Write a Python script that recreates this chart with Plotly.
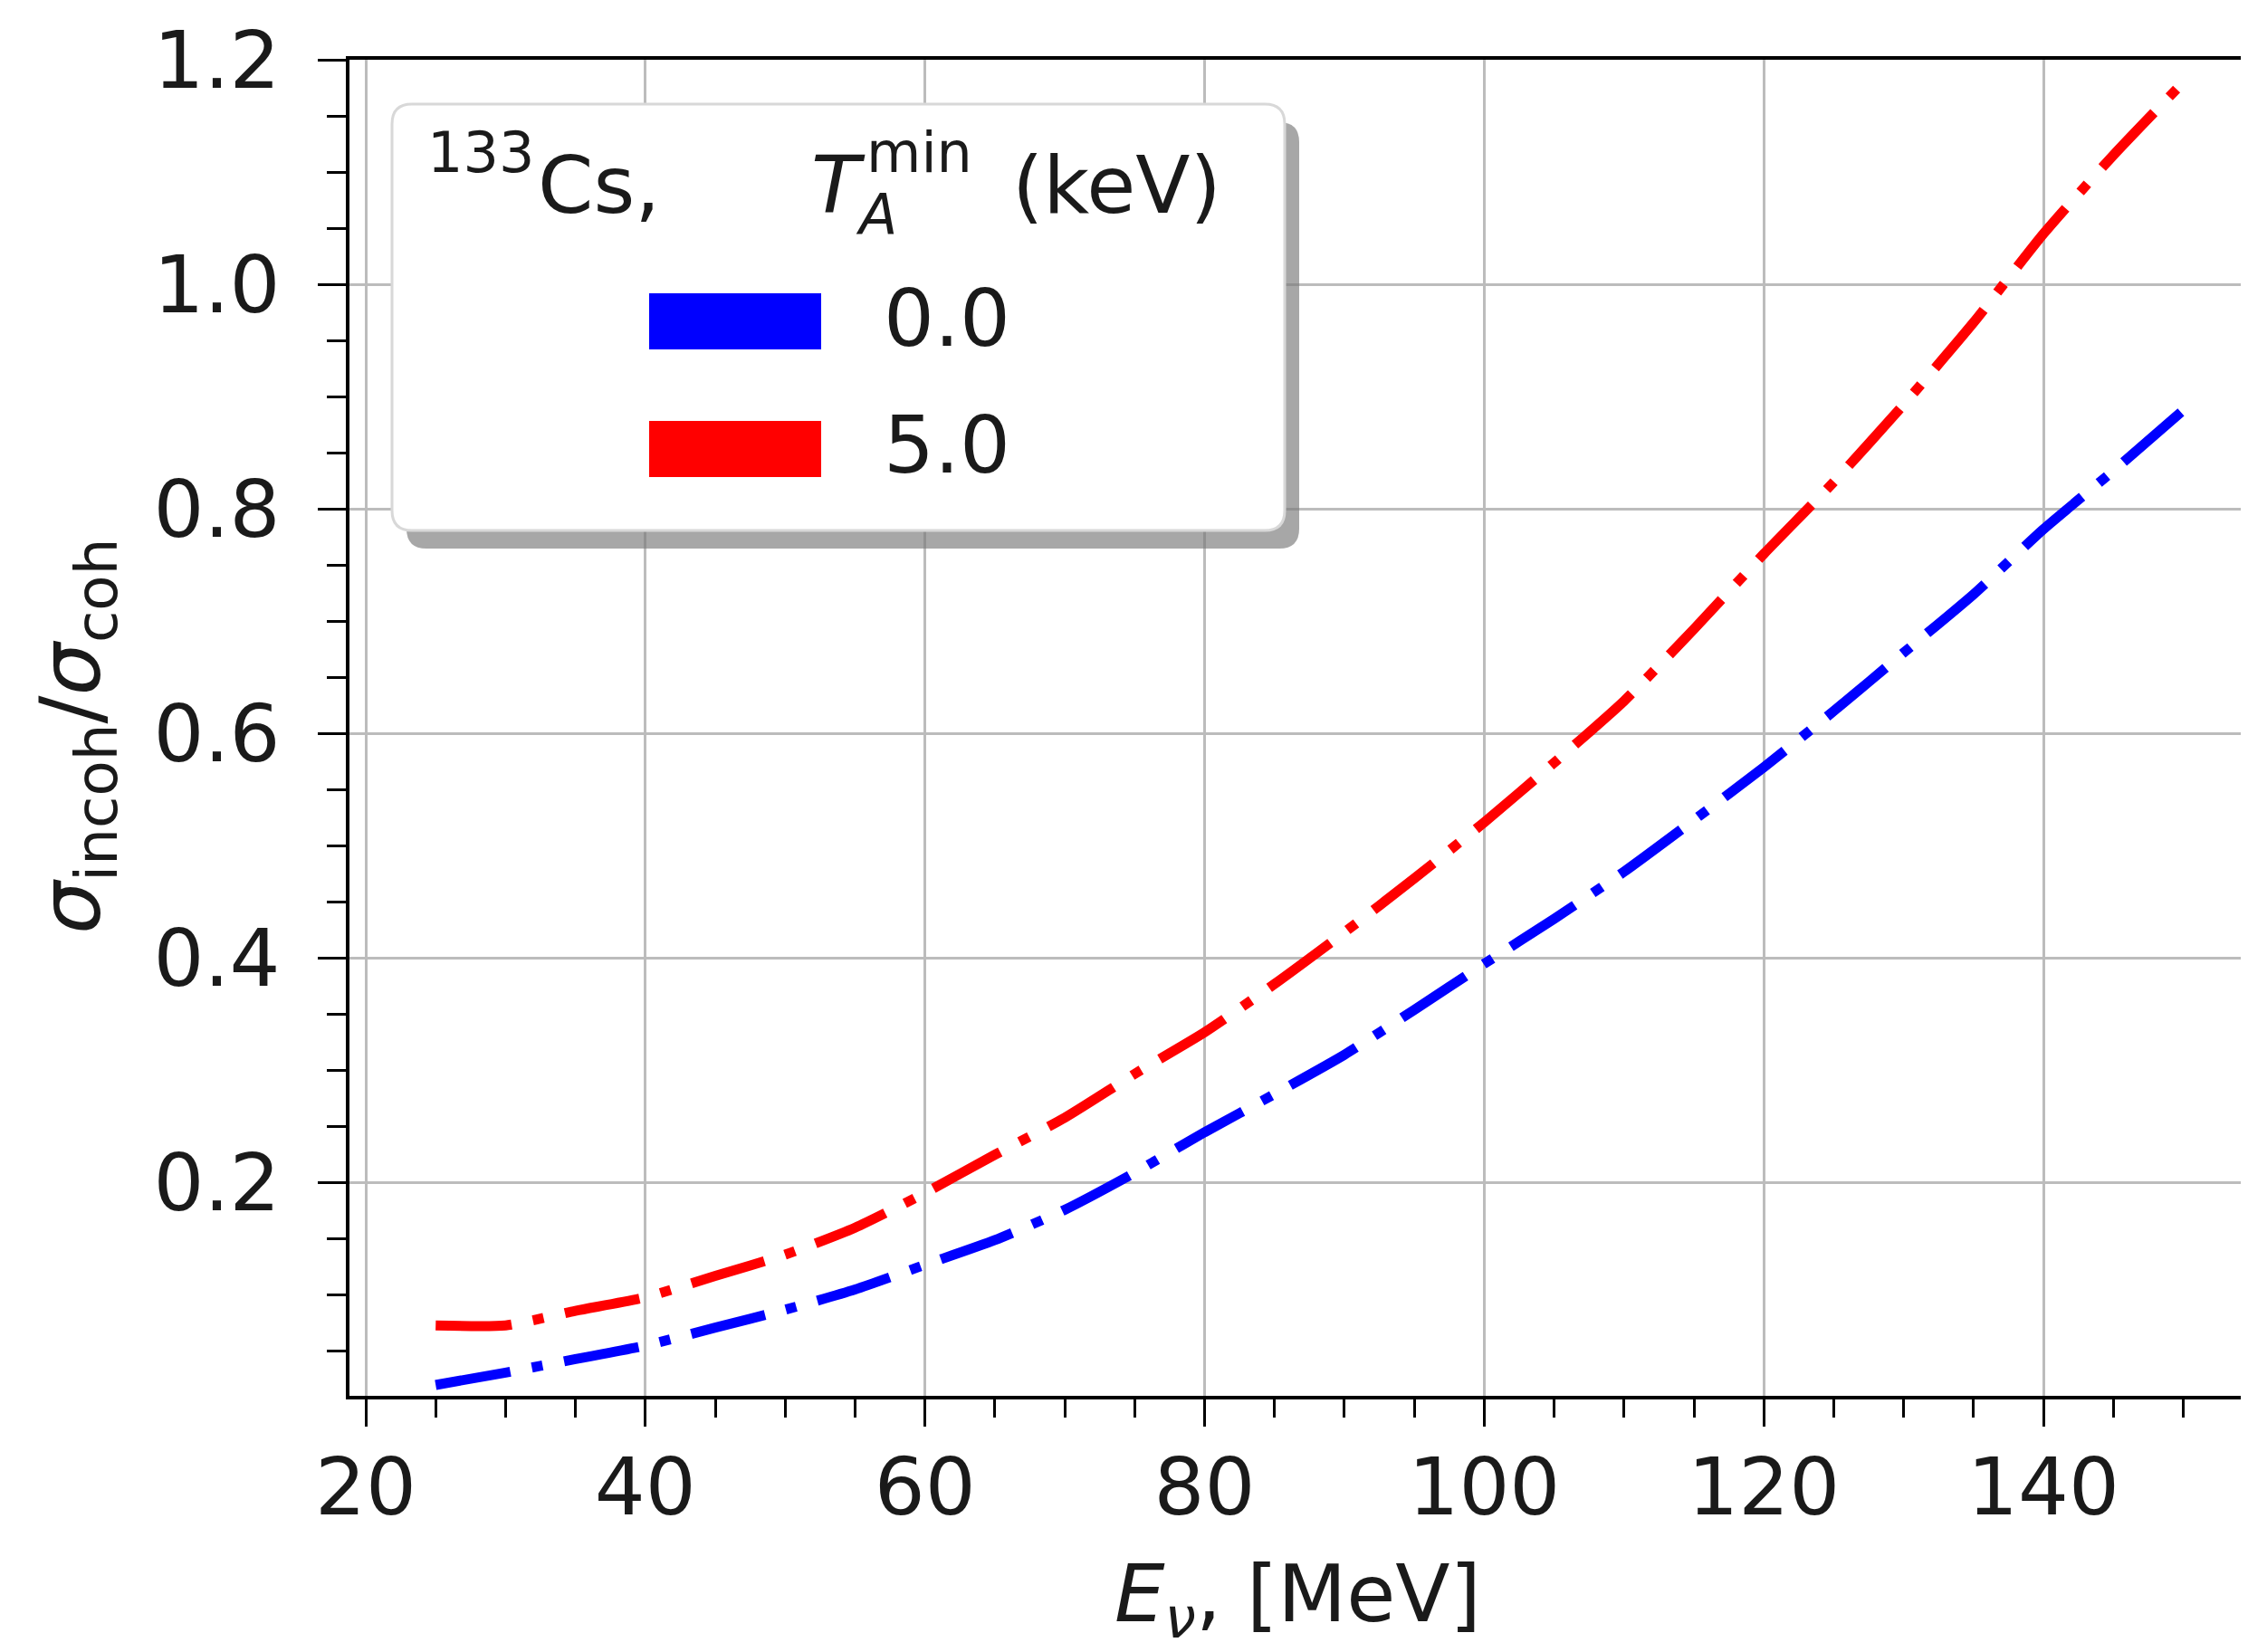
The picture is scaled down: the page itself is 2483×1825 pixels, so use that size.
import plotly.graph_objects as go

# ---------------- data ----------------
E_nu = [25, 30, 35, 40, 45, 50, 55, 60, 65, 70, 75, 80, 85, 90, 95, 100,
        105, 110, 115, 120, 125, 130, 135, 140, 145, 150]
ratio_T0 = [0.020, 0.031, 0.043, 0.055, 0.071, 0.087, 0.105, 0.127, 0.149, 0.176,
            0.209, 0.245, 0.279, 0.314, 0.354, 0.395, 0.435, 0.477, 0.523, 0.570,
            0.620, 0.672, 0.724, 0.782, 0.834, 0.888]
ratio_T5 = [0.073, 0.073, 0.086, 0.098, 0.117, 0.136, 0.160, 0.191, 0.225, 0.258,
            0.297, 0.334, 0.377, 0.423, 0.471, 0.521, 0.574, 0.629, 0.693, 0.760,
            0.824, 0.893, 0.966, 1.045, 1.115, 1.180]
series_labels = ["0.0", "5.0"]
series_colors = ["#0000ff", "#ff0000"]
x_ticks = [20, 40, 60, 80, 100, 120, 140]
y_ticks = [0.2, 0.4, 0.6, 0.8, 1.0, 1.2]

# ---------------- geometry ----------------
FIG_W, FIG_H = 2483, 1825
L, R, T, B = 378, 2477, 58, 1534
PW, PH = R - L, B - T
FONT = "DejaVu Sans"
FS = 88


def px_x(px):
    return (px - L) / PW


def px_y(py):
    return (B - py) / PH


fig = go.Figure()
DASH = "84px,24px,12px,24px"
for ys, lab, col in zip([ratio_T0, ratio_T5], series_labels, series_colors):
    fig.add_trace(go.Scatter(
        x=E_nu, y=ys, mode="lines", name=lab,
        line=dict(color=col, width=11, dash=DASH, shape="spline", smoothing=0.6),
        showlegend=False,
    ))

axis_common = dict(
    showline=True, linecolor="black", linewidth=4, mirror=True,
    ticks="outside", tickcolor="black", tickwidth=3,
    showgrid=True, gridcolor="#bcbcbc", gridwidth=3,
    zeroline=False,
    tickfont=dict(family=FONT, size=FS, color="#1a1a1a"),
)

fig.update_xaxes(
    range=[18.834, 154.76], tickvals=x_ticks, ticklen=30,
    ticklabelstandoff=-9,
    minor=dict(dtick=5, tick0=0, ticks="outside", ticklen=20, tickwidth=3,
               tickcolor="black", showgrid=False),
    **axis_common,
)
fig.update_yaxes(
    range=[0.0103, 1.2], tickvals=y_ticks, ticktext=[f"{v:.1f}" for v in y_ticks],
    ticklen=31, ticklabelstandoff=24,
    minor=dict(dtick=0.05, tick0=0, ticks="outside", ticklen=21, tickwidth=3,
               tickcolor="black", showgrid=False),
    **axis_common,
)

# ---------------- custom legend (matplotlib-like with shadow) ----------------
def rounded_path(x0p, y0p, x1p, y1p, r):
    # pixel coordinates (y downward) -> paper path
    X0, X1 = px_x(x0p), px_x(x1p)
    Yt, Yb = px_y(y0p), px_y(y1p)
    rx, ry = r / PW, r / PH
    return (f"M {X0+rx},{Yt} L {X1-rx},{Yt} Q {X1},{Yt} {X1},{Yt-ry} "
            f"L {X1},{Yb+ry} Q {X1},{Yb} {X1-rx},{Yb} L {X0+rx},{Yb} "
            f"Q {X0},{Yb} {X0},{Yb+ry} L {X0},{Yt-ry} Q {X0},{Yt} {X0+rx},{Yt} Z")


shapes = []
bx0, by0, bx1, by1 = 425, 107, 1411, 578
shapes.append(dict(type="path", xref="paper", yref="paper", layer="above",
                   path=rounded_path(bx0 + 16, by0 + 20, bx1 + 16, by1 + 20, 22),
                   fillcolor="rgba(120,120,120,0.65)", line=dict(width=0)))
shapes.append(dict(type="path", xref="paper", yref="paper", layer="above",
                   path=rounded_path(bx0, by0, bx1, by1, 22),
                   fillcolor="white", line=dict(color="#d8d8d8", width=3)))
handle_rows = [347, 488]
for yc, col in zip(handle_rows, series_colors):
    shapes.append(dict(type="rect", xref="paper", yref="paper", layer="above",
                       x0=px_x(709), x1=px_x(899), y0=px_y(yc + 31), y1=px_y(yc - 31),
                       fillcolor=col, line=dict(width=0)))

annotations = []


def add_text(text, left_px, cy_px, size=FS, anchor="left"):
    annotations.append(dict(
        text=text, xref="paper", yref="paper", x=px_x(left_px), y=px_y(cy_px),
        xanchor=anchor, yanchor="middle", showarrow=False,
        font=dict(family=FONT, size=size, color="#1a1a1a"),
    ))


# legend title: 133Cs,   T_A^min (keV)
add_text("133", 462, 160, size=62)
add_text("Cs,", 584, 196)
add_text("<i>T</i>", 886, 196)
add_text("min", 947, 160, size=62)
add_text("<i>A</i>", 935, 229, size=62)
add_text("(keV)", 1108, 196)
for yc, lab in zip(handle_rows, series_labels):
    add_text(lab, 966, yc - 4)

# axis titles
annotations.append(dict(
    text="<i>E</i><sub><i>ν</i></sub>, [MeV]", xref="paper", yref="paper",
    x=px_x(1425), y=px_y(1758), xanchor="center", yanchor="middle", showarrow=False,
    font=dict(family=FONT, size=FS, color="#1a1a1a"),
))
annotations.append(dict(
    text="<i>σ</i><sub>incoh</sub>/<i>σ</i><sub>coh</sub>", xref="paper", yref="paper",
    x=px_x(76), y=px_y(805), xanchor="center", yanchor="middle", showarrow=False,
    textangle=-90, font=dict(family=FONT, size=92, color="#1a1a1a"),
))

fig.update_layout(
    width=FIG_W, height=FIG_H,
    margin=dict(l=L, r=FIG_W - R, t=T, b=FIG_H - B, autoexpand=False),
    paper_bgcolor="white", plot_bgcolor="white",
    shapes=shapes, annotations=annotations,
    showlegend=False,
)

fig.write_html("out.html")
